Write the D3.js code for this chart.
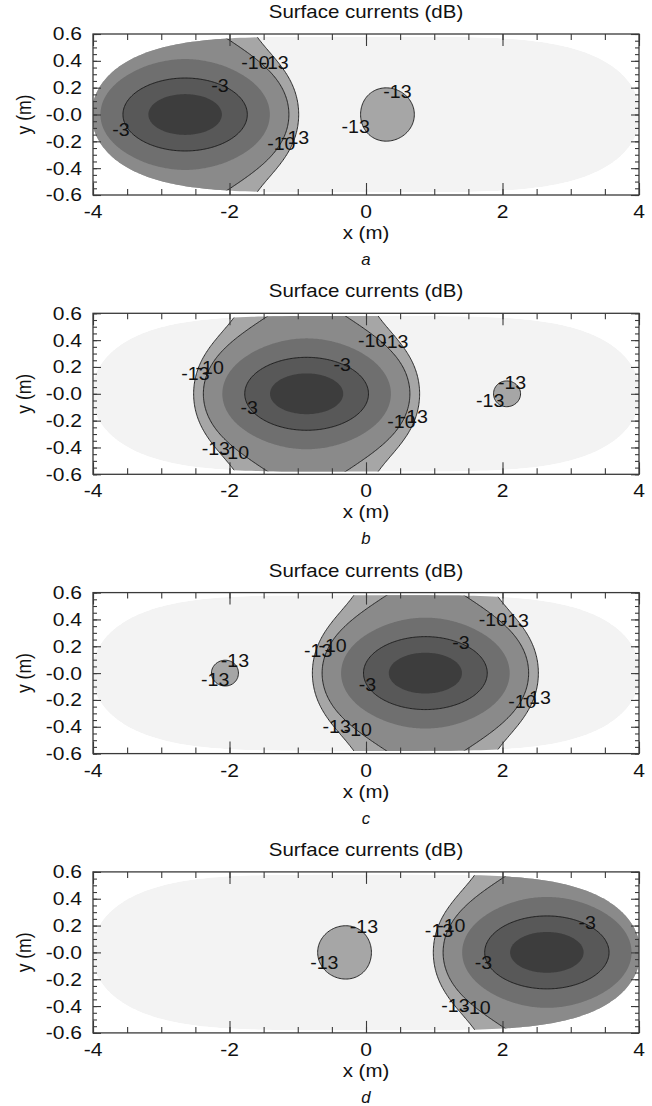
<!DOCTYPE html>
<html><head><meta charset="utf-8">
<script src="https://cdn.jsdelivr.net/npm/d3@7"></script>
<style>
body{margin:0;background:#fff}
svg{display:block}
text{font-family:"Liberation Sans",Arial,Helvetica,sans-serif;fill:#111}
</style>
</head><body>
<svg id="chart" width="652" height="1106"></svg>
<script>
// ---------------- data ----------------
const panelLetters = ["a", "b", "c", "d"];
const titleText = "Surface currents (dB)";
const mainCenters = [-2.65, -0.87, 0.87, 2.65];   // main lobe peak x (m)
const lobeWidths = [2.06, 2.05, 2.05, 2.06];       // first-null distance (m)
const sideDirections = [1, 1, -1, -1];             // side where sidelobe is seen
const sideGains = [1.25, 1.08, 1.08, 1.25];        // sidelobe strength factor
const yFloor = 0.3, yWidth = 0.37;                 // transverse profile
const fillLevels = [-13, -10, -6, -3, -1];
const fillColors = ["#a6a6a6", "#8a8a8a", "#6f6f6f", "#585858", "#3d3d3d"];
const lineLevels = [-13, -10, -3];
const bodyColor = "#f3f3f3";
const bodyHalfLength = 4.02, bodyHalfHeight = 0.58, bodyExponent = 4.5;
const xTickValues = [-4, -2, 0, 2, 4];
const xTickLabels = ["-4", "-2", "0", "2", "4"];
const yTickValues = [0.6, 0.4, 0.2, 0, -0.2, -0.4, -0.6];
const yTickLabels = ["0.6", "0.4", "0.2", "-0.0", "-0.2", "-0.4", "-0.6"];
const labelsA = [["-10",-1.62,0.385],["-13",-1.34,0.385],["-3",-2.14,0.218],["-3",-3.59,-0.11],
  ["-10",-1.24,-0.22],["-13",-1.04,-0.17],["-13",0.46,0.17],["-13",-0.15,-0.09]];
const labelsB = [["-10",0.09,0.395],["-13",0.415,0.39],["-3",-0.35,0.22],["-3",-1.71,-0.1],
  ["-13",-2.5,0.15],["-10",-2.29,0.197],["-13",-2.2,-0.41],["-10",-1.92,-0.44],
  ["-10",0.52,-0.21],["-13",0.7,-0.17],["-13",2.14,0.085],["-13",1.82,-0.05]];
const labelsC = [["-10",1.86,0.396],["-13",2.18,0.39],["-3",1.39,0.223],["-3",0.02,-0.09],
  ["-13",-0.7,0.17],["-10",-0.49,0.206],["-13",-0.43,-0.4],["-10",-0.12,-0.42],
  ["-10",2.29,-0.21],["-13",2.5,-0.18],["-13",-1.92,0.09],["-13",-2.21,-0.05]];
const labelsD = [["-13",-0.03,0.19],["-13",-0.61,-0.08],["-13",1.07,0.16],["-10",1.25,0.2],
  ["-3",3.24,0.225],["-3",1.72,-0.08],["-13",1.31,-0.4],["-10",1.62,-0.41]];
const panelLabels = [labelsA, labelsB, labelsC, labelsD];

// ---------------- layout ----------------
const plotLeft = 93, plotRight = 639, plotH = 161, firstTop = 34, panelStep = 279.3;
const stretch = 1.17, fontSize = 17.5;

const svg = d3.select("#chart");
const defs = svg.append("defs");

function stext(g, x, y, str, opts = {}) {
  const t = g.append("text")
    .attr("transform", `translate(${x},${y}) scale(${opts.sx ?? stretch},1)` + (opts.rot ? ` rotate(${opts.rot})` : ""))
    .attr("text-anchor", opts.anchor || "middle")
    .attr("font-size", opts.size || fontSize)
    .text(str);
  if (opts.dy) t.attr("dy", opts.dy);
  if (opts.italic) t.attr("font-style", "italic");
  return t;
}

// grid for field
const gx0 = -4.4, gx1 = 4.4, gy0 = -0.8, gy1 = 0.8, nx = 441, ny = 161;
const sx = (gx1 - gx0) / (nx - 1), sy = (gy1 - gy0) / (ny - 1);

function fieldDB(p, x, y) {
  const u = (x - mainCenters[p]) / lobeWidths[p];
  let s = Math.abs(u) < 1e-9 ? 1 : Math.sin(Math.PI * u) / (Math.PI * u);
  if (Math.abs(u) > 1) s = (Math.sign(u) === sideDirections[p]) ? s * sideGains[p] : 0;
  const Y = yFloor + (1 - yFloor) * Math.exp(-(y / yWidth) * (y / yWidth));
  const a = Math.abs(s) * Y;
  return a > 0 ? Math.max(-40, 20 * Math.log10(a)) : -40;
}

panelLetters.forEach((letter, p) => {
  const top = firstTop + p * panelStep, bottom = top + plotH;
  const x = d3.scaleLinear([-4, 4], [plotLeft, plotRight]);
  const y = d3.scaleLinear([-0.6, 0.6], [bottom, top]);
  const g = svg.append("g");

  // clip paths
  defs.append("clipPath").attr("id", "rect" + p).append("rect")
    .attr("x", plotLeft).attr("y", top).attr("width", plotRight - plotLeft).attr("height", plotH);
  const bodyPts = d3.range(0, 361, 1).map(deg => {
    const t = deg * Math.PI / 180, c = Math.cos(t), s = Math.sin(t);
    return [bodyHalfLength * Math.sign(c) * Math.pow(Math.abs(c), 2 / bodyExponent), bodyHalfHeight * s];
  });
  const bodyLine = d3.line().x(d => x(d[0])).y(d => y(d[1]));
  defs.append("clipPath").attr("id", "body" + p).append("path").attr("d", bodyLine(bodyPts));

  const inner = g.append("g").attr("clip-path", `url(#rect${p})`)
    .append("g").attr("clip-path", `url(#body${p})`);
  inner.append("path").attr("d", bodyLine(bodyPts)).attr("fill", bodyColor);

  // field values
  const values = new Float64Array(nx * ny);
  for (let j = 0; j < ny; j++) for (let i = 0; i < nx; i++)
    values[j * nx + i] = fieldDB(p, gx0 + i * sx, gy0 + j * sy);
  const proj = d3.geoTransform({
    point(px, py) { this.stream.point(x(gx0 + (px - 0.5) * sx), y(gy0 + (py - 0.5) * sy)); }
  });
  const path = d3.geoPath(proj);
  const contours = d3.contours().size([nx, ny]).thresholds(fillLevels);
  inner.selectAll("path.fill").data(contours(values)).join("path")
    .attr("class", "fill").attr("d", path)
    .attr("fill", (d, i) => fillColors[i]);
  const lineContours = d3.contours().size([nx, ny]).thresholds(lineLevels);
  inner.selectAll("path.cl").data(lineContours(values)).join("path")
    .attr("class", "cl").attr("d", path)
    .attr("fill", "none").attr("stroke", "#1a1a1a").attr("stroke-width", 0.9);

  // contour labels
  const lg = g.append("g");
  panelLabels[p].forEach(([t, lx, ly]) => stext(lg, x(lx), y(ly), t, { dy: "0.36em", size: 17.5, sx: 1.12 }));

  // axes (ticks inward)
  const minorX = d3.range(-4, 4.001, 0.5), minorY = d3.range(-0.6, 0.601, 0.05);
  const ax = g.append("g");
  const styleAxis = sel => { sel.select(".domain").remove(); sel.selectAll("line").attr("stroke", "#3a3a3a").attr("stroke-width", 1.1); sel.selectAll("text").remove(); };
  ax.append("g").attr("transform", `translate(0,${bottom})`).call(d3.axisBottom(x).tickValues(minorX).tickSize(-6)).call(styleAxis);
  ax.append("g").attr("transform", `translate(0,${bottom})`).call(d3.axisBottom(x).tickValues(xTickValues).tickSize(-12)).call(styleAxis);
  ax.append("g").attr("transform", `translate(0,${top})`).call(d3.axisTop(x).tickValues(minorX).tickSize(-6)).call(styleAxis);
  ax.append("g").attr("transform", `translate(0,${top})`).call(d3.axisTop(x).tickValues(xTickValues).tickSize(-12)).call(styleAxis);
  ax.append("g").attr("transform", `translate(${plotLeft},0)`).call(d3.axisLeft(y).tickValues(minorY).tickSize(-4)).call(styleAxis);
  ax.append("g").attr("transform", `translate(${plotLeft},0)`).call(d3.axisLeft(y).tickValues(yTickValues).tickSize(-8)).call(styleAxis);
  ax.append("g").attr("transform", `translate(${plotRight},0)`).call(d3.axisRight(y).tickValues(minorY).tickSize(-4)).call(styleAxis);
  ax.append("g").attr("transform", `translate(${plotRight},0)`).call(d3.axisRight(y).tickValues(yTickValues).tickSize(-8)).call(styleAxis);
  g.append("rect").attr("x", plotLeft).attr("y", top).attr("width", plotRight - plotLeft).attr("height", plotH)
    .attr("fill", "none").attr("stroke", "#3a3a3a").attr("stroke-width", 1.3);

  // tick labels
  xTickValues.forEach((v, i) => stext(g, x(v), bottom + 23, xTickLabels[i], { size: 18 }));
  yTickValues.forEach((v, i) => stext(g, plotLeft - 11, y(v), yTickLabels[i], { anchor: "end", dy: "0.36em", size: 18 }));

  // titles
  stext(g, (plotLeft + plotRight) / 2, top - 16, titleText, { size: 17.5 });
  stext(g, (plotLeft + plotRight) / 2, bottom + 44, "x (m)", { size: 17.5 });
  stext(g, 31, (top + bottom) / 2, "y (m)", { size: 17.5, rot: -90 });
  stext(g, (plotLeft + plotRight) / 2, bottom + 70, letter, { size: 16, italic: true, sx: 1.05 });
});
</script>
</body></html>
